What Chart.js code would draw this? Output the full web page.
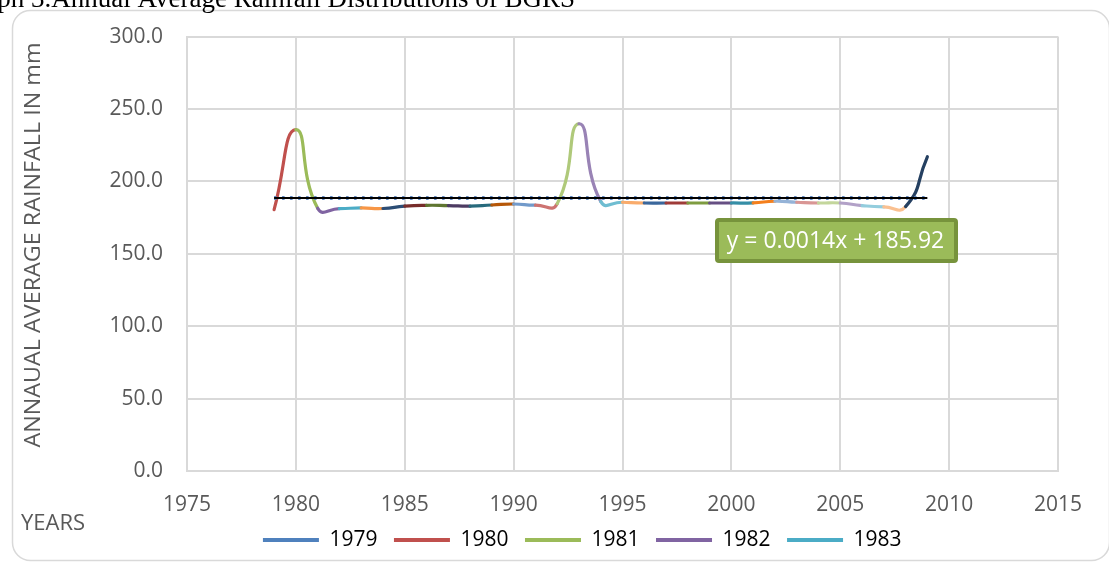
<!DOCTYPE html>
<html>
<head>
<meta charset="utf-8">
<script src="https://cdn.jsdelivr.net/npm/chart.js@4.4.1/dist/chart.umd.min.js"></script>
<style>
html,body{margin:0;padding:0;background:#fff;overflow:hidden}
#wrap{position:relative;width:1109px;height:563px}
canvas{display:block}
</style>
</head>
<body>
<div id="wrap"><canvas id="c" width="1109" height="563"></canvas></div>
<script>
// ---- data ----
const years = [1979,1980,1981,1982,1983,1984,1985,1986,1987,1988,1989,1990,1991,1992,1993,1994,1995,1996,1997,1998,1999,2000,2001,2002,2003,2004,2005,2006,2007,2008,2009];
const rainfall = [180.5,235.7,181.5,181.2,181.7,181.3,182.9,183.5,183.3,182.9,183.7,184.4,183.6,184.6,239.8,186.2,185.6,185.1,185.1,185.1,185.1,185.1,185.2,186.3,185.6,185.1,185.1,183.3,182.4,182.6,217.0];
const trendYears = [1979, 2009];
const trendValues = [188.5, 188.5];
const legendLabels = ['1979','1980','1981','1982','1983'];
const trendEquation = 'y = 0.0014x + 185.92';
const chartTitle = 'Graph 3.Annual Average Rainfall Distributions of BGRS';
const yAxisTitle = 'ANNAUAL AVERAGE RAINFALL IN mm';
const xAxisTitle = 'YEARS';
const xMin = 1975, xMax = 2015, xStep = 5;
const yMin = 0, yMax = 300, yStep = 50;

// ---- styles ----
const pointColors = ['#4F81BD','#C0504D','#9BBB59','#8064A2','#4BACC6','#F79646',
  '#2C4D75','#772C2A','#5F7530','#4D3B62','#276A7C','#B65708',
  '#729ACA','#CD7371','#AFC97A','#9983B5','#6FBDD1','#F9AB6B',
  '#3A679C','#9F3B38','#7E9C40','#664F83','#358EA6','#F47F1C',
  '#95B3D7','#D99694','#C3D69B','#B2A1C7','#93CDDD','#FAC090','#254061'];
const FONT = '"Open Sans", "Noto Sans", sans-serif';
const TXT = '#595959';
const GRID = '#D9D9D9';

const decor = {
  id: 'decor',
  beforeDraw(chart) {
    const ctx = chart.ctx;
    ctx.save();
    ctx.fillStyle = '#fff';
    ctx.fillRect(0, 0, chart.width, chart.height);
    // frame
    ctx.strokeStyle = '#D9D9D9';
    ctx.lineWidth = 1.5;
    ctx.beginPath();
    ctx.roundRect(12.5, 10.5, 1097, 550, 18);
    ctx.stroke();
    // cropped caption
    ctx.fillStyle = '#000';
    ctx.font = '27px "Liberation Serif", serif';
    ctx.textAlign = 'right';
    ctx.textBaseline = 'alphabetic';
    ctx.fillText(chartTitle, 575, 7);
    // y title
    ctx.fillStyle = TXT;
    ctx.font = '22px ' + FONT;
    ctx.textAlign = 'center';
    ctx.textBaseline = 'middle';
    ctx.save();
    ctx.translate(34, 245);
    ctx.rotate(-Math.PI / 2);
    const w = ctx.measureText(yAxisTitle).width;
    ctx.scale(405 / w, 1);
    ctx.fillText(yAxisTitle, 0, 0);
    ctx.restore();
    // x title
    ctx.textAlign = 'left';
    ctx.fillText(xAxisTitle, 21, 524);
    ctx.restore();
  },
  afterDraw(chart) {
    const ctx = chart.ctx;
    ctx.save();
    ctx.fillStyle = '#9BBB59';
    ctx.strokeStyle = '#77933C';
    ctx.lineWidth = 4;
    ctx.beginPath();
    ctx.roundRect(717, 220, 239, 41, 2);
    ctx.fill();
    ctx.stroke();
    ctx.fillStyle = '#fff';
    ctx.font = '23px ' + FONT;
    ctx.textAlign = 'center';
    ctx.textBaseline = 'middle';
    ctx.fillText(trendEquation, 835.5, 241);
    ctx.restore();
  }
};

const mainData = years.map((y, i) => ({x: y, y: rainfall[i]}));
const trendData = trendYears.map((y, i) => ({x: y, y: trendValues[i]}));

new Chart(document.getElementById('c'), {
  type: 'line',
  data: {
    datasets: [
      {
        label: 'trend',
        data: trendData,
        borderColor: '#000',
        borderWidth: 2,
        pointRadius: 0,
        tension: 0,
        order: 0
      },
      {
        label: 'trendDots',
        data: trendData,
        borderColor: '#5F88C2',
        borderWidth: 4,
        borderDash: [2.5, 5.5],
        pointRadius: 0,
        tension: 0,
        order: 1
      },
      {
        label: 'rainfall',
        data: mainData,
        borderColor: pointColors[1],
        borderWidth: 3.2,
        borderCapStyle: 'round',
        borderJoinStyle: 'round',
        pointRadius: 0,
        tension: 0.55,
        order: 2,
        segment: {
          borderColor: c => pointColors[c.p1DataIndex]
        }
      }
    ]
  },
  options: {
    responsive: false,
    animation: false,
    devicePixelRatio: 1,
    layout: { padding: { top: 32, left: 106.5, right: 51, bottom: 2.5 } },
    plugins: {
      tooltip: { enabled: false },
      legend: {
        position: 'bottom',
        labels: {
          font: { family: FONT, size: 21 },
          color: TXT,
          boxWidth: 56,
          boxHeight: 4,
          padding: 16.5,
          generateLabels: () => legendLabels.map((t, i) => ({
            text: t, fillStyle: pointColors[i], strokeStyle: pointColors[i],
            lineWidth: 0, hidden: false, datasetIndex: 2
          }))
        }
      }
    },
    scales: {
      x: {
        type: 'linear',
        min: xMin, max: xMax,
        ticks: {
          stepSize: xStep,
          callback: v => String(v),
          font: { family: FONT, size: 21 },
          color: TXT,
          padding: 21,
          maxRotation: 0,
          autoSkip: false
        },
        grid: { color: GRID, lineWidth: 2, drawTicks: false },
        border: { color: GRID, width: 2 },
        afterFit: s => { s.height = 42; }
      },
      y: {
        min: yMin, max: yMax,
        ticks: {
          stepSize: yStep,
          callback: v => Number(v).toFixed(1),
          font: { family: FONT, size: 21 },
          color: TXT,
          padding: 24
        },
        grid: { color: GRID, lineWidth: 2, drawTicks: false },
        border: { color: GRID, width: 2 },
        afterFit: s => { s.width = 80.5; }
      }
    }
  },
  plugins: [decor]
});
</script>
</body>
</html>
